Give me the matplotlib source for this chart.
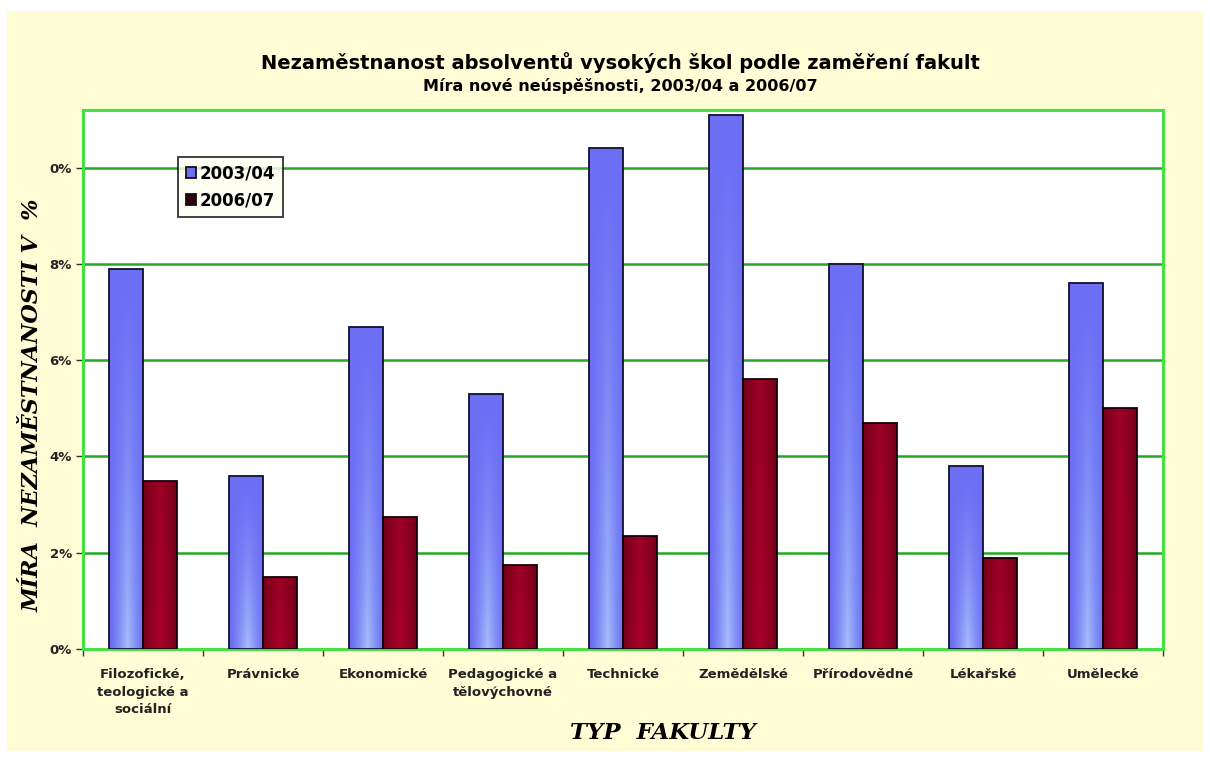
import numpy as np
import matplotlib.pyplot as plt
from matplotlib.patches import Rectangle

# data
faculties = ['Filozofické,\nteologické a\nsociální', 'Právnické', 'Ekonomické',
             'Pedagogické a\ntělovýchovné', 'Technické', 'Zemědělské',
             'Přírodovědné', 'Lékařské', 'Umělecké']
rate_0304 = [7.9, 3.6, 6.7, 5.3, 10.4, 11.1, 8.0, 3.8, 7.6]
rate_0607 = [3.5, 1.5, 2.75, 1.75, 2.35, 5.6, 4.7, 1.9, 5.0]
series = ['2003/04', '2006/07']
ytick_vals = [0, 2, 4, 6, 8, 10]
ytick_labels = ['0%', '2%', '4%', '6%', '8%', '0%']  # top label is cut in the original

title = 'Nezaměstnanost absolventů vysokých škol podle zaměření fakult'
subtitle = 'Míra nové neúspěšnosti, 2003/04 a 2006/07'
ylabel = 'MÍRA  NEZAMĚSTNANOSTI V  %'
xlabel = 'TYP  FAKULTY'

cream = '#FFFCD6'
grid_green = '#22A822'
frame_green = '#44E044'
sans = 'DejaVu Sans'
serif = 'DejaVu Serif'


def blue_grad(nx=40, ny=120):
    xs = np.linspace(0, 1, nx)
    ys = np.linspace(0, 1, ny)[:, None]
    base = np.array([108, 110, 244]) / 255
    light = np.array([165, 190, 250]) / 255
    bump = np.clip(1 - np.abs(xs - 0.55) / 0.5, 0, 1) ** 1.2
    a = (ys ** 1.4) * bump
    return base + a[..., None] * (light - base)


def red_grad(nx=40, ny=120):
    xs = np.linspace(0, 1, nx)
    ys = np.linspace(0, 1, ny)[:, None]
    base = np.array([112, 0, 22]) / 255
    light = np.array([172, 0, 42]) / 255
    bump = np.clip(1 - np.abs(xs - 0.5) / 0.5, 0, 1) ** 0.8
    a = bump * (0.75 + 0.25 * ys)
    return base + a[..., None] * (light - base)


fig = plt.figure(figsize=(12.1, 7.57), dpi=100, facecolor='white')
fig.patches.append(Rectangle((0.006, 0.008), 0.988, 0.978, transform=fig.transFigure,
                             facecolor=cream, edgecolor='none', zorder=-10))

ax = fig.add_axes([0.0686, 0.1427, 0.8925, 0.712])
ax.set_facecolor('white')

x = np.arange(len(faculties))
w = 0.283
b1 = ax.bar(x - w / 2, rate_0304, w, color='#7070F0', edgecolor='#101030',
            linewidth=1.3, zorder=3, label=series[0])
b2 = ax.bar(x + w / 2, rate_0607, w, color='#8A0020', edgecolor='#150008',
            linewidth=1.3, zorder=3, label=series[1])

ax.set_xlim(-0.5, len(faculties) - 0.5)
ax.set_ylim(0, 11.2)
ax.set_autoscale_on(False)

# gradient fill inside each bar
for bars, grad in [(b1, blue_grad()), (b2, red_grad())]:
    for p in bars:
        px, pw, ph = p.get_x(), p.get_width(), p.get_height()
        im = ax.imshow(grad, extent=[px, px + pw, 0, ph], aspect='auto',
                       zorder=3.5, interpolation='bilinear')
        im.set_clip_path(p)
    for p in bars:
        p.set_facecolor('none')
        p.set_zorder(4)

ax.set_yticks(ytick_vals)
ax.set_yticklabels(ytick_labels, fontsize=9.5, fontweight='bold',
                   family=sans, color='#222222')
ax.yaxis.grid(True, color=grid_green, linewidth=1.8, zorder=1)
ax.set_axisbelow(True)

ax.set_xticks(x)
ax.set_xticklabels(faculties, fontsize=9.5, fontweight='bold',
                   family=sans, color='#222222', linespacing=1.45)
ax.tick_params(axis='x', which='major', length=0, pad=14)
ax.set_xticks(np.arange(len(faculties) + 1) - 0.5, minor=True)
ax.tick_params(axis='x', which='minor', length=5, width=1, color='#333333')
ax.tick_params(axis='y', length=5, width=1, color='#333333', pad=3)

for s in ax.spines.values():
    s.set_color(frame_green)
    s.set_linewidth(2.2)

leg = ax.legend(loc='upper left', bbox_to_anchor=(0.088, 0.913),
                prop={'family': sans, 'weight': 'bold', 'size': 12},
                frameon=True, fancybox=False, handlelength=0.6, handleheight=0.6,
                handletextpad=0.25, borderpad=0.45, labelspacing=0.55,
                borderaxespad=0)
leg.get_frame().set_edgecolor('black')
leg.get_frame().set_linewidth(1.3)
leg.get_frame().set_facecolor('#FFFFF2')
leg.legend_handles[0].set_facecolor('#6E6EF0')
leg.legend_handles[1].set_facecolor('#35000E')
for h in leg.legend_handles:
    h.set_edgecolor('#101010')

fig.text(0.513, 0.918, title, ha='center', va='center', fontsize=14,
         fontweight='bold', family=sans)
fig.text(0.513, 0.887, subtitle, ha='center', va='center', fontsize=11.5,
         fontweight='bold', family=sans)

fig.text(0.027, 0.464, ylabel, rotation=90, ha='center', va='center',
         fontsize=16, fontweight='bold', style='italic', family=serif)
fig.text(0.548, 0.032, xlabel, ha='center', va='center', fontsize=16.5,
         fontweight='bold', style='italic', family=serif)

fig.savefig('out.png', dpi=100, facecolor=fig.get_facecolor())
